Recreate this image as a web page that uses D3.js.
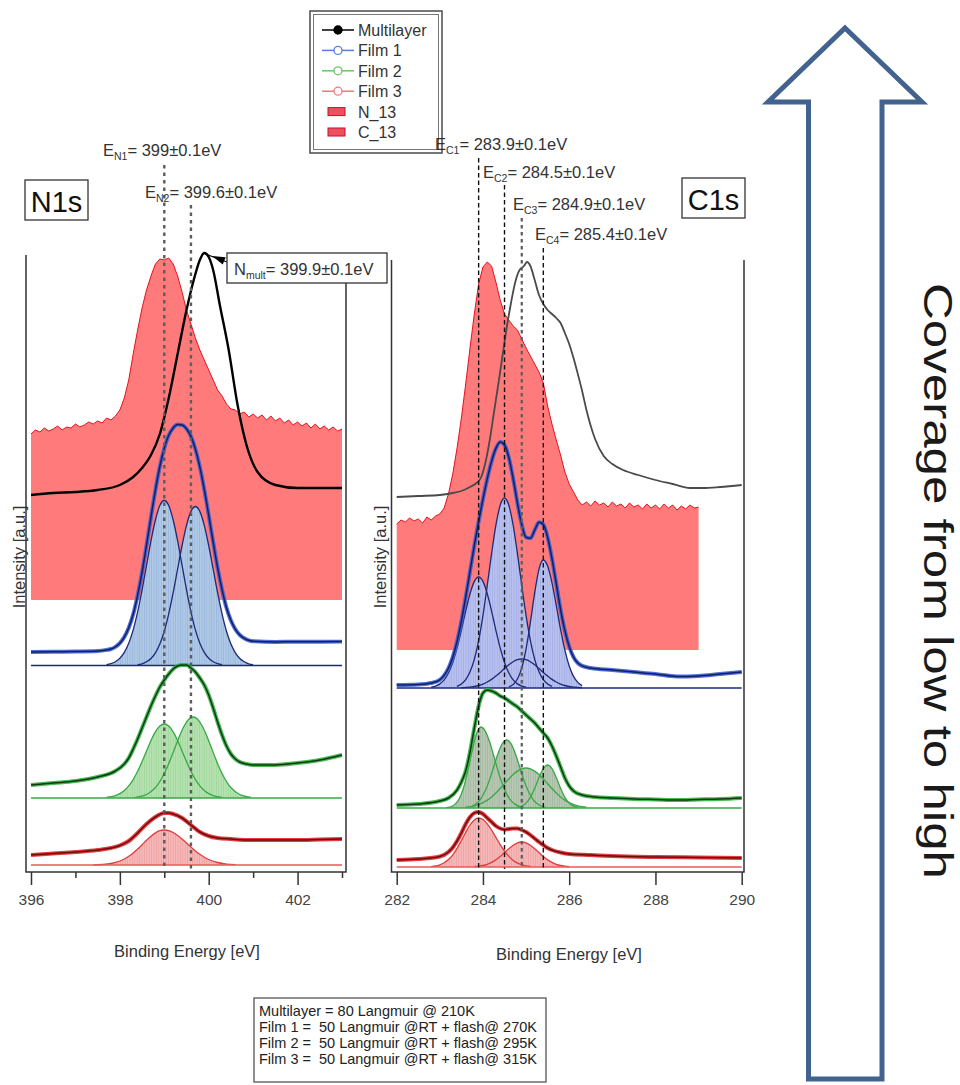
<!DOCTYPE html>
<html>
<head>
<meta charset="utf-8">
<script src="https://cdn.jsdelivr.net/npm/d3@7"></script>
<style>
  body { margin: 0; background: #fff; }
  svg { display: block; }
  text { font-family: "Liberation Sans", Arial, sans-serif; }
</style>
</head>
<body>
<svg id="chart" width="960" height="1085"></svg>
<script>
// ---------------- N1s region ----------------
const nMajorTicks = [396, 398, 400, 402];
const nMinorTicks = [397, 399, 401, 403];
const nPeakNames = ["N1", "N2"];
const nPeakEnergies = [399.0, 399.6];
const nMultPeak = 399.9;

// stacking offsets (a.u.)
const nFilmBaseline = [20.65, 7.4, 0.7];   // Film 1, Film 2, Film 3
const n13Base = 27.2;
const nMultiBase = 37.2;

const n13 = [[396.0,16.6],[396.1,17.0],[396.2,16.8],[396.3,17.2],[396.4,16.9],[396.5,17.1],[396.6,17.4],[396.7,17.0],[396.8,17.3],[396.9,17.2],[397.0,17.6],[397.1,17.3],[397.2,17.5],[397.3,17.8],[397.4,17.6],[397.5,17.9],[397.6,17.7],[397.7,18.2],[397.8,18.0],[397.9,18.4],[398.0,19.0],[398.1,20.2],[398.2,22.0],[398.3,24.6],[398.4,27.0],[398.5,29.2],[398.6,31.0],[398.7,32.4],[398.8,33.6],[398.9,34.1],[399.0,34.0],[399.1,34.2],[399.2,33.6],[399.3,32.4],[399.4,30.8],[399.5,29.0],[399.6,27.6],[399.7,26.2],[399.8,25.0],[399.9,24.0],[400.0,23.0],[400.1,22.0],[400.2,21.0],[400.3,20.4],[400.4,19.6],[400.5,19.1],[400.6,19.0],[400.7,18.6],[400.8,18.8],[400.9,18.3],[401.0,18.6],[401.1,18.2],[401.2,18.5],[401.3,18.0],[401.4,18.4],[401.5,17.9],[401.6,18.2],[401.7,17.7],[401.8,18.0],[401.9,17.5],[402.0,17.8],[402.1,17.4],[402.2,17.7],[402.3,17.2],[402.4,17.6],[402.5,17.1],[402.6,17.4],[402.7,17.0],[402.8,17.3],[402.9,16.9],[403.0,17.1]];

const nMultilayer = [[396.0,0.5],[396.5,0.7],[397.0,0.8],[397.5,1.0],[398.0,1.5],[398.3,2.3],[398.5,3.2],[398.7,4.5],[398.9,6.6],[399.1,10.2],[399.3,14.6],[399.5,19.0],[399.7,22.6],[399.8,24.0],[399.9,24.7],[400.0,24.3],[400.1,23.0],[400.25,19.5],[400.45,15.0],[400.65,9.5],[400.85,5.5],[401.1,2.8],[401.5,1.5],[402.0,1.2],[403.0,1.2]];

const nFilm1Comp1 = [[397.7,0.08],[397.8,0.18],[397.9,0.38],[398.0,0.73],[398.1,1.32],[398.2,2.23],[398.3,3.56],[398.4,5.36],[398.5,7.56],[398.6,10.02],[398.7,12.46],[398.8,14.55],[398.9,15.99],[399.0,16.5],[399.1,15.99],[399.2,14.55],[399.3,12.46],[399.4,10.02],[399.5,7.56],[399.6,5.36],[399.7,3.56],[399.8,2.23],[399.9,1.32],[400.0,0.73],[400.1,0.38],[400.2,0.18],[400.3,0.08]];
const nFilm1Comp2 = [[398.4,0.08],[398.5,0.17],[398.6,0.37],[398.7,0.70],[398.8,1.27],[398.9,2.15],[399.0,3.43],[399.1,5.17],[399.2,7.28],[399.3,9.65],[399.4,12.0],[399.5,14.02],[399.6,15.41],[399.7,15.9],[399.8,15.41],[399.9,14.02],[400.0,12.0],[400.1,9.65],[400.2,7.28],[400.3,5.17],[400.4,3.43],[400.5,2.15],[400.6,1.27],[400.7,0.70],[400.8,0.37],[400.9,0.17],[401.0,0.08]];
const nFilm1Fit = [[396.0,1.35],[396.5,1.38],[397.0,1.4],[397.5,1.45],[397.7,1.56],[397.8,1.65],[397.9,1.87],[398.0,2.23],[398.1,2.84],[398.2,3.77],[398.3,5.12],[398.4,7.02],[398.5,9.33],[398.6,12.03],[398.7,14.84],[398.8,17.54],[398.9,19.9],[399.0,21.73],[399.1,23.02],[399.2,23.75],[399.3,24.09],[399.4,24.06],[399.5,23.68],[399.6,22.91],[399.7,21.64],[399.8,19.86],[399.9,17.6],[400.0,15.03],[400.1,12.34],[400.2,9.78],[400.3,7.58],[400.4,5.77],[400.5,4.5],[400.6,3.62],[400.7,3.05],[400.8,2.72],[400.9,2.52],[401.0,2.43],[401.5,2.36],[402.0,2.38],[402.5,2.38],[403.0,2.4]];

const nFilm2Comp1 = [[397.7,0.06],[397.8,0.13],[397.9,0.24],[398.0,0.44],[398.1,0.75],[398.2,1.21],[398.3,1.84],[398.4,2.67],[398.5,3.64],[398.6,4.70],[398.7,5.74],[398.8,6.61],[398.9,7.19],[399.0,7.4],[399.1,7.19],[399.2,6.61],[399.3,5.74],[399.4,4.70],[399.5,3.64],[399.6,2.67],[399.7,1.84],[399.8,1.21],[399.9,0.75],[400.0,0.44],[400.1,0.24],[400.2,0.13],[400.3,0.06]];
const nFilm2Comp2 = [[398.35,0.06],[398.45,0.14],[398.55,0.26],[398.65,0.48],[398.75,0.82],[398.85,1.32],[398.95,2.02],[399.05,2.92],[399.15,3.99],[399.25,5.14],[399.35,6.28],[399.45,7.23],[399.55,7.87],[399.65,8.1],[399.75,7.87],[399.85,7.23],[399.95,6.28],[400.05,5.14],[400.15,3.99],[400.25,2.92],[400.35,2.02],[400.45,1.32],[400.55,0.82],[400.65,0.48],[400.75,0.26],[400.85,0.14],[400.95,0.06]];
const nFilm2Fit = [[396.0,1.3],[396.5,1.5],[397.0,1.7],[397.5,2.1],[397.9,2.7],[398.1,3.4],[398.2,4.0],[398.3,4.9],[398.4,5.9],[398.5,7.0],[398.6,8.1],[398.7,9.2],[398.8,10.2],[398.9,11.1],[399.0,11.8],[399.1,12.4],[399.2,12.9],[399.3,13.2],[399.4,13.3],[399.5,13.3],[399.6,13.0],[399.7,12.6],[399.8,12.0],[399.9,11.3],[400.0,10.3],[400.1,9.0],[400.2,7.6],[400.3,6.3],[400.4,5.2],[400.5,4.4],[400.6,3.9],[400.7,3.6],[400.85,3.4],[401.0,3.3],[401.5,3.3],[402.0,3.5],[402.5,3.8],[403.0,4.3]];

const nFilm3Comp1 = [[397.4,0.01],[397.6,0.05],[397.8,0.15],[398.0,0.40],[398.1,0.60],[398.2,0.87],[398.3,1.21],[398.4,1.60],[398.5,2.03],[398.6,2.47],[398.7,2.88],[398.8,3.21],[398.9,3.43],[399.0,3.5],[399.1,3.44],[399.2,3.25],[399.3,2.96],[399.4,2.60],[399.5,2.21],[399.6,1.80],[399.7,1.41],[399.8,1.07],[399.9,0.78],[400.0,0.55],[400.2,0.25],[400.4,0.09],[400.6,0.03]];
const nFilm3Fit = [[396.0,1.0],[396.5,1.15],[397.0,1.3],[397.5,1.5],[397.8,1.7],[398.0,1.95],[398.2,2.4],[398.4,3.2],[398.6,4.1],[398.8,4.8],[399.0,5.2],[399.1,5.2],[399.2,5.1],[399.4,4.7],[399.6,4.0],[399.8,3.3],[400.0,2.9],[400.2,2.7],[400.5,2.6],[401.0,2.5],[401.5,2.5],[402.0,2.5],[402.5,2.55],[403.0,2.6]];

// ---------------- C1s region ----------------
const cMajorTicks = [282, 284, 286, 288, 290];
const cPeakNames = ["C1", "C2", "C3", "C4"];
const cPeakEnergies = [283.9, 284.5, 284.9, 285.4];

const cFilmBaseline = [18.4, 6.4, 0.5];
const c13Base = 22.2;
const cMultiBase = 37.2;

const c13 = [[282.0,12.6],[282.1,13.0],[282.2,12.8],[282.3,13.2],[282.4,12.9],[282.5,13.1],[282.6,12.7],[282.7,13.3],[282.8,13.0],[282.9,13.4],[283.0,13.6],[283.1,14.2],[283.2,15.6],[283.3,17.6],[283.4,20.2],[283.5,23.2],[283.6,26.6],[283.7,30.2],[283.8,33.6],[283.9,36.6],[284.0,38.3],[284.1,38.8],[284.2,38.4],[284.3,36.8],[284.4,35.0],[284.5,33.6],[284.6,33.0],[284.7,32.4],[284.8,32.0],[284.9,31.1],[285.0,30.2],[285.1,29.4],[285.2,28.6],[285.3,27.8],[285.4,26.7],[285.5,24.4],[285.6,22.6],[285.7,21.0],[285.8,19.5],[285.9,17.8],[286.0,16.6],[286.1,15.8],[286.2,15.0],[286.3,14.5],[286.4,14.8],[286.5,14.4],[286.6,14.9],[286.7,14.5],[286.8,14.7],[286.9,14.3],[287.0,14.8],[287.1,14.4],[287.2,14.6],[287.3,14.2],[287.4,14.7],[287.5,14.3],[287.6,14.5],[287.7,14.1],[287.8,14.6],[287.9,14.2],[288.0,14.5],[288.1,14.1],[288.2,14.6],[288.3,14.2],[288.4,14.5],[288.5,14.0],[288.6,14.4],[288.7,14.1],[288.8,14.5],[288.9,14.2],[289.0,14.3]];

const cMultilayer = [[282.0,0.3],[282.5,0.4],[283.0,0.5],[283.3,0.7],[283.5,0.9],[283.7,1.3],[283.85,1.7],[283.95,2.2],[284.05,3.6],[284.15,5.8],[284.25,8.6],[284.35,11.4],[284.45,14.3],[284.55,17.2],[284.65,19.7],[284.75,21.8],[284.85,23.0],[284.9,23.2],[284.95,23.4],[285.02,23.8],[285.1,23.4],[285.2,22.0],[285.3,20.5],[285.4,19.6],[285.5,19.0],[285.6,18.6],[285.7,18.2],[285.8,17.7],[285.9,16.7],[286.0,15.6],[286.1,14.2],[286.2,12.6],[286.3,10.9],[286.4,9.0],[286.5,7.4],[286.6,6.1],[286.8,4.4],[287.0,3.6],[287.25,3.0],[287.6,2.5],[288.0,2.0],[288.4,1.6],[288.8,1.2],[289.1,1.2],[289.5,1.3],[290.0,1.5]];

const cFilm1Comp1 = [[282.8,0.08],[282.9,0.19],[283.0,0.41],[283.1,0.81],[283.2,1.50],[283.3,2.55],[283.4,4.01],[283.5,5.77],[283.6,7.69],[283.7,9.42],[283.8,10.66],[283.9,11.1],[284.0,10.66],[284.1,9.42],[284.2,7.69],[284.3,5.77],[284.4,4.01],[284.5,2.55],[284.6,1.50],[284.7,0.81],[284.8,0.41],[284.9,0.19],[285.0,0.08]];
const cFilm1Comp2 = [[283.4,0.17],[283.5,0.40],[283.6,0.84],[283.7,1.62],[283.8,2.87],[283.9,4.73],[284.0,7.24],[284.1,10.26],[284.2,13.43],[284.3,16.28],[284.4,18.28],[284.5,19.0],[284.6,18.28],[284.7,16.28],[284.8,13.43],[284.9,10.26],[285.0,7.24],[285.1,4.73],[285.2,2.87],[285.3,1.62],[285.4,0.84],[285.5,0.40],[285.6,0.17]];
const cFilm1Comp3 = [[283.5,0.02],[283.7,0.08],[283.9,0.25],[284.0,0.39],[284.1,0.60],[284.2,0.86],[284.3,1.19],[284.4,1.56],[284.5,1.95],[284.6,2.32],[284.7,2.63],[284.8,2.83],[284.9,2.9],[285.0,2.83],[285.1,2.63],[285.2,2.32],[285.3,1.95],[285.4,1.56],[285.5,1.19],[285.6,0.86],[285.7,0.60],[285.8,0.39],[285.9,0.25],[286.1,0.08],[286.3,0.02]];
const cFilm1Comp4 = [[284.6,0.12],[284.7,0.35],[284.8,0.90],[284.9,2.01],[285.0,3.92],[285.1,6.58],[285.2,9.52],[285.3,11.89],[285.4,12.8],[285.5,12.19],[285.6,10.53],[285.7,8.26],[285.8,5.86],[285.9,3.78],[286.0,2.20],[286.1,1.16],[286.2,0.56],[286.3,0.24]];
const cFilm1Fit = [[282.0,0.3],[282.5,0.35],[282.8,0.5],[283.0,0.81],[283.1,1.26],[283.2,1.97],[283.3,3.08],[283.4,4.67],[283.5,6.69],[283.6,9.09],[283.7,11.66],[283.8,14.24],[283.9,16.66],[284.0,18.89],[284.1,20.92],[284.2,22.66],[284.3,23.96],[284.4,24.61],[284.5,24.3],[284.6,23.06],[284.7,20.95],[284.8,18.49],[284.9,16.32],[285.0,15.07],[285.1,14.98],[285.2,15.79],[285.3,16.58],[285.4,16.36],[285.5,15.08],[285.6,12.96],[285.7,10.43],[285.8,7.85],[285.9,5.73],[286.0,4.15],[286.1,3.09],[286.2,2.5],[286.3,2.21],[286.5,2.0],[287.0,1.8],[287.5,1.6],[288.0,1.4],[288.5,1.15],[289.0,1.2],[289.5,1.4],[290.0,1.6]];

const cFilm2Comp1 = [[283.15,0.03],[283.25,0.11],[283.35,0.36],[283.45,0.92],[283.55,2.02],[283.65,3.71],[283.75,5.73],[283.85,7.43],[283.95,8.1],[284.05,7.71],[284.15,6.67],[284.25,5.22],[284.35,3.71],[284.45,2.39],[284.55,1.39],[284.65,0.74],[284.75,0.36],[284.85,0.15],[284.95,0.06]];
const cFilm2Comp2 = [[283.75,0.20],[283.85,0.45],[283.95,0.92],[284.05,1.69],[284.15,2.79],[284.25,4.13],[284.35,5.45],[284.45,6.43],[284.55,6.8],[284.65,6.43],[284.75,5.45],[284.85,4.13],[284.95,2.79],[285.05,1.69],[285.15,0.92],[285.25,0.45],[285.35,0.20],[285.45,0.07]];
const cFilm2Comp3 = [[283.6,0.08],[283.8,0.22],[284.0,0.54],[284.1,0.79],[284.2,1.11],[284.3,1.50],[284.4,1.95],[284.5,2.43],[284.6,2.90],[284.7,3.34],[284.8,3.69],[284.9,3.92],[285.0,4.0],[285.1,3.92],[285.2,3.69],[285.3,3.34],[285.4,2.90],[285.5,2.43],[285.6,1.95],[285.7,1.50],[285.8,1.11],[285.9,0.79],[286.0,0.54],[286.2,0.22],[286.4,0.08]];
const cFilm2Comp4 = [[284.8,0.06],[284.9,0.19],[285.0,0.49],[285.1,1.07],[285.2,1.97],[285.3,3.04],[285.4,3.94],[285.5,4.3],[285.6,3.94],[285.7,3.04],[285.8,1.97],[285.9,1.07],[286.0,0.49],[286.1,0.19],[286.2,0.06]];
const cFilm2Fit = [[282.0,0.3],[282.5,0.4],[283.0,0.7],[283.2,1.0],[283.4,1.8],[283.5,2.6],[283.6,3.7],[283.7,5.6],[283.8,8.0],[283.9,10.2],[284.0,11.5],[284.1,11.8],[284.2,11.7],[284.3,11.5],[284.4,11.2],[284.5,11.0],[284.6,10.7],[284.7,10.4],[284.8,10.1],[284.9,9.7],[285.0,9.3],[285.1,8.9],[285.2,8.5],[285.3,8.0],[285.4,7.5],[285.5,7.0],[285.6,6.2],[285.7,5.2],[285.8,4.1],[285.9,3.0],[286.0,2.2],[286.1,1.7],[286.3,1.3],[286.6,1.1],[287.0,1.0],[287.5,0.9],[288.0,0.85],[288.5,0.8],[289.0,0.85],[289.5,0.9],[290.0,1.0]];

const cFilm3Comp1 = [[282.8,0.04],[282.9,0.10],[283.0,0.22],[283.1,0.42],[283.2,0.74],[283.3,1.22],[283.4,1.87],[283.5,2.65],[283.6,3.46],[283.7,4.20],[283.8,4.71],[283.9,4.9],[284.0,4.75],[284.1,4.32],[284.2,3.70],[284.3,2.97],[284.4,2.24],[284.5,1.59],[284.6,1.06],[284.7,0.66],[284.8,0.39],[284.9,0.22],[285.0,0.11],[285.1,0.05]];
const cFilm3Comp3 = [[283.8,0.04],[283.9,0.08],[284.0,0.15],[284.1,0.27],[284.2,0.46],[284.3,0.72],[284.4,1.05],[284.5,1.44],[284.6,1.83],[284.7,2.18],[284.8,2.42],[284.9,2.5],[285.0,2.42],[285.1,2.18],[285.2,1.83],[285.3,1.44],[285.4,1.05],[285.5,0.72],[285.6,0.46],[285.7,0.27],[285.8,0.15],[285.9,0.08],[286.0,0.04]];
const cFilm3Fit = [[282.0,0.7],[282.5,0.8],[283.0,1.05],[283.2,1.5],[283.3,1.95],[283.4,2.6],[283.5,3.4],[283.6,4.3],[283.7,5.0],[283.8,5.4],[283.9,5.5],[284.0,5.3],[284.1,4.9],[284.2,4.5],[284.3,4.1],[284.4,3.85],[284.5,3.75],[284.6,3.8],[284.7,3.85],[284.8,3.85],[284.9,3.7],[285.0,3.5],[285.1,3.2],[285.2,2.85],[285.3,2.5],[285.4,2.2],[285.5,1.9],[285.6,1.7],[285.8,1.45],[286.0,1.3],[286.5,1.2],[287.0,1.1],[288.0,1.0],[289.0,0.95],[290.0,0.9]];

// ---------------- legend and notes ----------------
const legendNames = ["Multilayer", "Film 1", "Film 2", "Film 3", "N_13", "C_13"];
const legendKinds = ["dot", "ring", "ring", "ring", "box", "box"];
const notes = [
  "Multilayer = 80 Langmuir @ 210K",
  "Film 1 =  50 Langmuir @RT + flash@ 270K",
  "Film 2 =  50 Langmuir @RT + flash@ 295K",
  "Film 3 =  50 Langmuir @RT + flash@ 315K"
];

// ---------------- styles ----------------
const filmStyle = [
  { data: "#3b5fd1", fit: "#141e64", comp: "#1d2a78", base: "#1d2a78" },
  { data: "#35b040", fit: "#0c3a12", comp: "#38a844", base: "#38a844" },
  { data: "#e0282c", fit: "#6e0b0b", comp: "#e23b3b", base: "#e85a5a" }
];
const legendColors = ["#000", "#5a7fd6", "#6cc46c", "#f07a7a", "#f0505e", "#f0505e"];

// ---------------- drawing ----------------
const svg = d3.select("#chart");
svg.append("rect").attr("width", 960).attr("height", 1085).attr("fill", "#fff");

const y = d3.scaleLinear().domain([0, 62]).range([872, 252]);
const xN = d3.scaleLinear().domain([396, 403]).range([31, 342]);
const xC = d3.scaleLinear().domain([282, 290]).range([396.7, 741.7]);

const defs = svg.append("defs");
function stripes(id, bg, fg) {
  const p = defs.append("pattern").attr("id", id)
    .attr("patternUnits", "userSpaceOnUse").attr("width", 2.4).attr("height", 10);
  p.append("rect").attr("width", 2.4).attr("height", 10).attr("fill", bg);
  p.append("rect").attr("width", 0.8).attr("height", 10).attr("fill", fg);
}
stripes("fillN1", "#b0c9e6", "#9ab5dc");
stripes("fillC1", "#b9c1ef", "#a4ade6");
stripes("fillN2", "#b6e2b1", "#a0d69b");
stripes("fillC2", "#b8c8b4", "#a3b79f");
stripes("fillR3", "#f6b8b8", "#eda2a2");

const lineGen = (x, base, curve) => d3.line()
  .x(d => x(d[0])).y(d => y(base + d[1])).curve(curve || d3.curveMonotoneX);
const areaGen = (x, base, curve) => d3.area()
  .x(d => x(d[0])).y0(y(base)).y1(d => y(base + d[1])).curve(curve || d3.curveMonotoneX);

function drawReference(g, x, data, base) {
  g.append("path").datum(data).attr("d", areaGen(x, base, d3.curveLinear))
    .attr("fill", "#ff7b7b");
  g.append("path").datum(data).attr("d", lineGen(x, base, d3.curveLinear))
    .attr("fill", "none").attr("stroke", "#e3121e").attr("stroke-width", 1);
}

function drawFilm(g, x, domain, base, comps, fit, st, fillId) {
  comps.forEach(c => g.append("path").datum(c).attr("d", areaGen(x, base))
    .attr("fill", `url(#${fillId})`));
  comps.forEach(c => g.append("path").datum(c).attr("d", lineGen(x, base))
    .attr("fill", "none").attr("stroke", st.comp).attr("stroke-width", 1.3));
  g.append("line").attr("x1", x(domain[0])).attr("x2", x(domain[1]))
    .attr("y1", y(base)).attr("y2", y(base))
    .attr("stroke", st.base).attr("stroke-width", 1.6);
  g.append("path").datum(fit).attr("d", lineGen(x, base))
    .attr("fill", "none").attr("stroke", st.data).attr("stroke-width", 4)
    .attr("stroke-linejoin", "round").attr("opacity", 0.9);
  g.append("path").datum(fit).attr("d", lineGen(x, base))
    .attr("fill", "none").attr("stroke", st.fit).attr("stroke-width", 1.5);
}

// ---- legend (drawn first so the labels beside it stay on top) ----
const lg = svg.append("g");
lg.append("rect").attr("x", 310).attr("y", 11).attr("width", 132).attr("height", 142)
  .attr("fill", "#fff").attr("stroke", "#555").attr("stroke-width", 1.6);
lg.append("rect").attr("x", 313.5).attr("y", 14.5).attr("width", 125).attr("height", 135)
  .attr("fill", "none").attr("stroke", "#777").attr("stroke-width", 1);
const rowY = d3.scalePoint().domain(legendNames).range([30, 132]);
legendNames.forEach((name, i) => {
  const yy = rowY(name), col = legendColors[i], kind = legendKinds[i];
  if (kind === "box") {
    lg.append("rect").attr("x", 328).attr("y", yy - 4).attr("width", 17).attr("height", 8)
      .attr("fill", col).attr("stroke", "#c01030").attr("stroke-width", 1);
  } else {
    lg.append("line").attr("x1", 322).attr("x2", 354).attr("y1", yy).attr("y2", yy)
      .attr("stroke", col).attr("stroke-width", 1.5);
    lg.append("circle").attr("cx", 338).attr("cy", yy).attr("r", 4)
      .attr("fill", kind === "dot" ? col : "#fff").attr("stroke", col).attr("stroke-width", 1.3);
  }
  lg.append("text").attr("x", 358).attr("y", yy + 6).attr("font-size", 16)
    .attr("fill", "#333").text(name);
});

// ---- N1s panel ----
const gN = svg.append("g");
drawReference(gN, xN, n13, n13Base);
drawFilm(gN, xN, xN.domain(), nFilmBaseline[0], [nFilm1Comp1, nFilm1Comp2], nFilm1Fit, filmStyle[0], "fillN1");
drawFilm(gN, xN, xN.domain(), nFilmBaseline[1], [nFilm2Comp1, nFilm2Comp2], nFilm2Fit, filmStyle[1], "fillN2");
drawFilm(gN, xN, xN.domain(), nFilmBaseline[2], [nFilm3Comp1], nFilm3Fit, filmStyle[2], "fillR3");
gN.append("path").datum(nMultilayer).attr("d", lineGen(xN, nMultiBase))
  .attr("fill", "none").attr("stroke", "#000").attr("stroke-width", 2.4);

// ---- C1s panel ----
const gC = svg.append("g");
drawReference(gC, xC, c13, c13Base);
drawFilm(gC, xC, xC.domain(), cFilmBaseline[0], [cFilm1Comp1, cFilm1Comp2, cFilm1Comp3, cFilm1Comp4], cFilm1Fit, filmStyle[0], "fillC1");
drawFilm(gC, xC, xC.domain(), cFilmBaseline[1], [cFilm2Comp1, cFilm2Comp2, cFilm2Comp3, cFilm2Comp4], cFilm2Fit, filmStyle[1], "fillC2");
drawFilm(gC, xC, xC.domain(), cFilmBaseline[2], [cFilm3Comp1, cFilm3Comp3], cFilm3Fit, filmStyle[2], "fillR3");
gC.append("path").datum(cMultilayer).attr("d", lineGen(xC, cMultiBase))
  .attr("fill", "none").attr("stroke", "#4a4a4a").attr("stroke-width", 1.8);

// ---- peak position guides ----
const nGuideTop = [165, 205];
gN.selectAll("line.guide").data(nPeakEnergies).join("line").attr("class", "guide")
  .attr("x1", d => xN(d)).attr("x2", d => xN(d))
  .attr("y1", (d, i) => nGuideTop[i]).attr("y2", y(0) - 3)
  .attr("stroke", "#5c5c5c").attr("stroke-width", 2.4).attr("stroke-dasharray", "3.5,4");
const cGuideTop = [158, 185, 218, 248];
gC.selectAll("line.guide").data(cPeakEnergies).join("line").attr("class", "guide")
  .attr("x1", d => xC(d)).attr("x2", d => xC(d))
  .attr("y1", (d, i) => cGuideTop[i]).attr("y2", y(0) - 3)
  .attr("stroke", (d, i) => i === 2 ? "#5c5c5c" : "#111")
  .attr("stroke-width", (d, i) => i === 2 ? 2.2 : 1.4)
  .attr("stroke-dasharray", (d, i) => i === 2 ? "3.5,3.5" : "4.5,3");

// ---- frames and axes ----
function frame(left, right, top) {
  svg.append("path")
    .attr("d", `M${left},${top}V${y(0)}H${right}V${top}`)
    .attr("fill", "none").attr("stroke", "#333").attr("stroke-width", 1.5);
}
frame(26, 346, 255);
frame(391.5, 744, 260);

function styleAxis(g) {
  g.select(".domain").remove();
  g.selectAll(".tick line").attr("stroke", "#333").attr("stroke-width", 1.5);
  g.selectAll(".tick text").attr("fill", "#444").attr("font-size", 15.5)
    .attr("font-family", "Liberation Sans, Arial, sans-serif")
    .attr("dy", null).attr("y", 33);
}
svg.append("g").attr("transform", `translate(0,${y(0)})`)
  .call(d3.axisBottom(xN).tickValues(nMajorTicks).tickSize(13).tickFormat(d3.format("d")))
  .call(styleAxis);
svg.append("g").attr("transform", `translate(0,${y(0)})`)
  .call(d3.axisBottom(xN).tickValues(nMinorTicks).tickSize(6).tickFormat(""))
  .call(styleAxis);
svg.append("g").attr("transform", `translate(0,${y(0)})`)
  .call(d3.axisBottom(xC).tickValues(cMajorTicks).tickSize(13).tickFormat(d3.format("d")))
  .call(styleAxis);

svg.append("text").attr("x", 187).attr("y", 957).attr("text-anchor", "middle")
  .attr("font-size", 16.5).attr("fill", "#333").text("Binding Energy [eV]");
svg.append("text").attr("x", 569).attr("y", 960).attr("text-anchor", "middle")
  .attr("font-size", 16.5).attr("fill", "#333").text("Binding Energy [eV]");
[[25, 557], [386, 557]].forEach(p => {
  svg.append("text").attr("transform", `translate(${p[0]},${p[1]}) rotate(-90)`)
    .attr("text-anchor", "middle").attr("font-size", 16.5).attr("fill", "#333")
    .text("Intensity [a.u.]");
});

// ---- energy annotations ----
function energyLabel(x0, y0, sub, value) {
  const t = svg.append("text").attr("x", x0).attr("y", y0)
    .attr("font-size", 16.5).attr("fill", "#333");
  t.append("tspan").text("E");
  t.append("tspan").attr("font-size", 10.5).attr("dy", 4).text(sub);
  t.append("tspan").attr("dy", -4).text(`= ${value}±0.1eV`);
  return t;
}
const nLabelPos = [[103, 156], [145, 198]];
nPeakEnergies.forEach((e, i) => energyLabel(nLabelPos[i][0], nLabelPos[i][1], nPeakNames[i], e));
const cLabelPos = [[435, 150], [483, 178], [513, 210], [535, 240]];
cPeakEnergies.forEach((e, i) => energyLabel(cLabelPos[i][0], cLabelPos[i][1], cPeakNames[i], e));

// multilayer N1s maximum tag
const peakPt = [xN(nMultPeak), y(nMultiBase + d3.max(nMultilayer, d => d[1]))];
const tagFrom = [227, 262];
svg.append("line").attr("x1", tagFrom[0]).attr("y1", tagFrom[1])
  .attr("x2", peakPt[0] + 1).attr("y2", peakPt[1] + 1)
  .attr("stroke", "#000").attr("stroke-width", 1.2);
{
  const dx = peakPt[0] - tagFrom[0], dy = peakPt[1] - tagFrom[1];
  const L = Math.hypot(dx, dy), ux = dx / L, uy = dy / L;
  const tip = [tagFrom[0] + ux * 16, tagFrom[1] + uy * 16];
  const bc = [tagFrom[0] + ux * 3, tagFrom[1] + uy * 3];
  svg.append("path")
    .attr("d", `M${tip}L${bc[0] - uy * 4},${bc[1] + ux * 4}L${bc[0] + uy * 4},${bc[1] - ux * 4}Z`)
    .attr("fill", "#000");
}
svg.append("rect").attr("x", 227).attr("y", 253).attr("width", 160).attr("height", 30)
  .attr("fill", "#fff").attr("stroke", "#333").attr("stroke-width", 1.3);
{
  const t = svg.append("text").attr("x", 234).attr("y", 275).attr("font-size", 16.5).attr("fill", "#333");
  t.append("tspan").text("N");
  t.append("tspan").attr("font-size", 10.5).attr("dy", 4).text("mult");
  t.append("tspan").attr("dy", -4).text(`= ${nMultPeak}±0.1eV`);
}

// region tags
[["N1s", 25, 180], ["C1s", 682, 178]].forEach(([name, bx, by]) => {
  svg.append("rect").attr("x", bx).attr("y", by).attr("width", 63).attr("height", 40)
    .attr("fill", "#fff").attr("stroke", "#333").attr("stroke-width", 1.3);
  svg.append("text").attr("x", bx + 31.5).attr("y", by + 32).attr("text-anchor", "middle")
    .attr("font-size", 29).attr("fill", "#111").text(name);
});

// ---- preparation notes ----
svg.append("rect").attr("x", 254).attr("y", 998).attr("width", 292).attr("height", 84)
  .attr("fill", "#fff").attr("stroke", "#555").attr("stroke-width", 1.3);
notes.forEach((s, i) => {
  svg.append("text").attr("x", 259).attr("y", 1016 + i * 16).attr("font-size", 14.5)
    .attr("fill", "#222").style("white-space", "pre").text(s);
});

// ---- coverage arrow ----
svg.append("path")
  .attr("d", "M845,28L922,102H882V1079H808.5V102H768Z")
  .attr("fill", "#fff").attr("stroke", "#43638f").attr("stroke-width", 5)
  .attr("stroke-linejoin", "miter");
svg.append("text").attr("transform", "translate(924,581) rotate(90)")
  .attr("text-anchor", "middle").attr("font-size", 40)
  .attr("textLength", 596).attr("lengthAdjust", "spacingAndGlyphs")
  .attr("font-family", "'Open Sans', sans-serif").attr("font-weight", 300)
  .attr("fill", "#1a1a1a").text("Coverage from low to high");
</script>
</body>
</html>
